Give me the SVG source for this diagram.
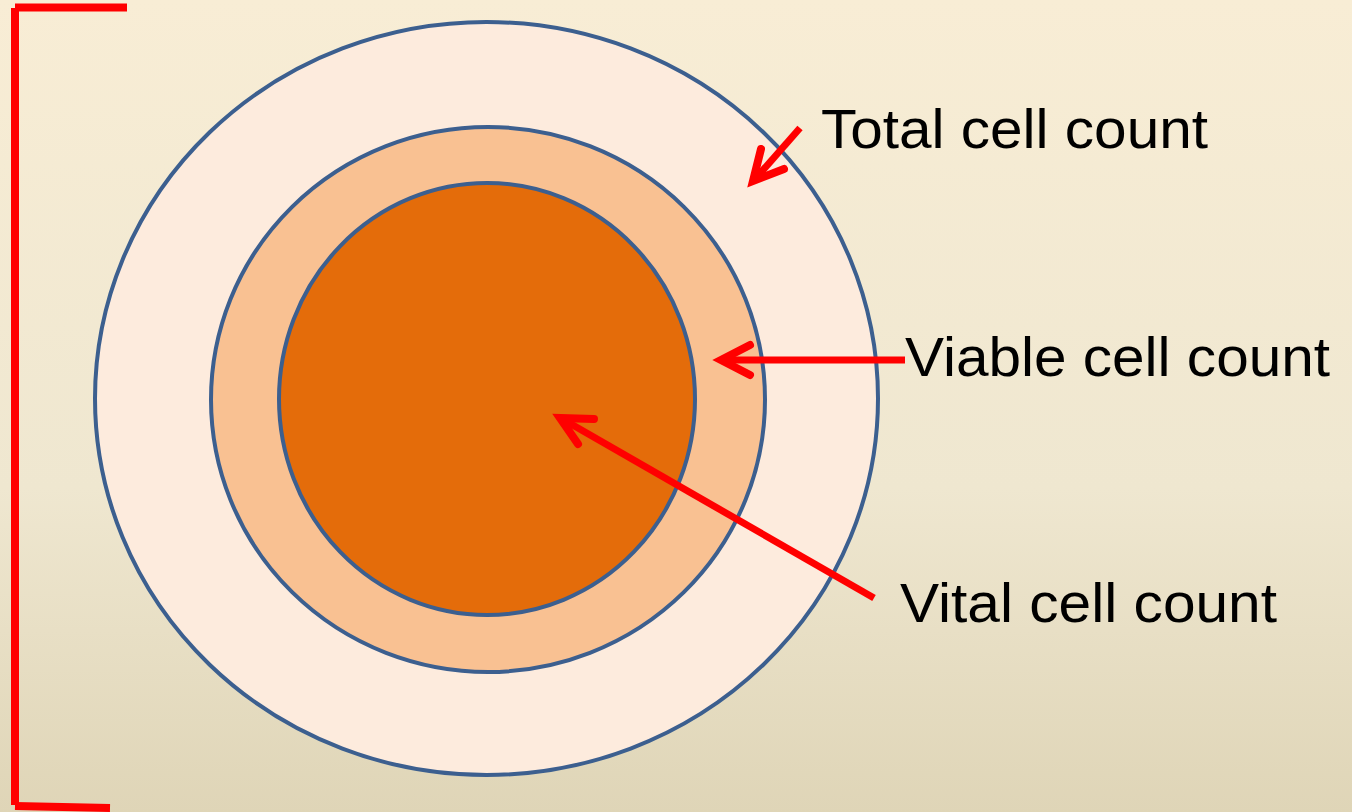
<svg xmlns="http://www.w3.org/2000/svg" width="1352" height="812" viewBox="0 0 1352 812">
<defs>
<linearGradient id="bg" x1="0" y1="0" x2="0" y2="1">
<stop offset="0" stop-color="#F8EDD5"/>
<stop offset="0.6" stop-color="#EFE7D0"/>
<stop offset="1" stop-color="#DFD5B7"/>
</linearGradient>
<style>
.ring{stroke:#3C5F8F;stroke-width:4}
.lbl{font-family:"Liberation Sans",Arial,sans-serif;font-size:56px;fill:#000}
.arrow{stroke:#FF0000;stroke-width:7;fill:none;stroke-linecap:butt}
.head{stroke:#FF0000;stroke-width:8;fill:none;stroke-linecap:round;stroke-linejoin:miter}
</style>
</defs>
<rect width="1352" height="812" fill="url(#bg)"/>
<g id="bracket">
<path d="M15,805 L15,8" stroke="#FF0000" stroke-width="8" fill="none"/>
<path d="M15,7.5 L127,7.5" stroke="#FF0000" stroke-width="8" fill="none"/>
<path d="M15,806 L110,808" stroke="#FF0000" stroke-width="8" fill="none"/>
</g>
<g id="total-ring"><ellipse cx="486.5" cy="398.5" rx="391.5" ry="376.5" fill="#FDEBDD" class="ring"/></g>
<g id="viable-ring"><ellipse cx="488" cy="399.5" rx="277" ry="272.5" fill="#F9C192" class="ring"/></g>
<g id="vital-core"><ellipse cx="487" cy="399" rx="208" ry="216" fill="#E46C0A" class="ring"/></g>
<g id="connectors">
<line class="arrow" x1="800" y1="128" x2="756" y2="178"/>
<path class="head" d="M761,149 L753,181 L784,169"/>
<line class="arrow" x1="905" y1="360" x2="725" y2="360"/>
<path class="head" d="M750,345 L721,360 L750,375"/>
<line class="arrow" x1="874" y1="598" x2="564" y2="420"/>
<path class="head" d="M578,444 L560,418 L594,419"/>
</g>
<g id="label-total"><text class="lbl" x="821" y="148" textLength="387" lengthAdjust="spacingAndGlyphs">Total cell count</text></g>
<g id="label-viable"><text class="lbl" x="905" y="376" textLength="425" lengthAdjust="spacingAndGlyphs">Viable cell count</text></g>
<g id="label-vital"><text class="lbl" x="900" y="622" textLength="377" lengthAdjust="spacingAndGlyphs">Vital cell count</text></g>
</svg>
